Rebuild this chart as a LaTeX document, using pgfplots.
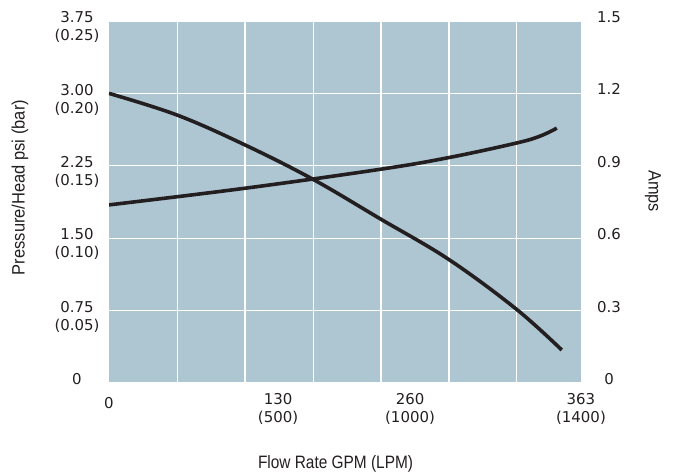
\documentclass[border=0pt]{standalone}
\usepackage{pgfplots}
\pgfplotsset{compat=1.18}
\usepackage{fontspec}
\setmainfont{Liberation Sans}
\newfontfamily\dejavu{DejaVu Sans}
\usepackage{graphicx}
\definecolor{bgcol}{RGB}{174,198,210}
\definecolor{ink}{RGB}{35,31,32}
\begin{document}
\begin{tikzpicture}
\begin{axis}[
  scale only axis, width=472bp, height=362bp,
  xmin=0, xmax=363, ymin=0, ymax=3.75,
  axis background/.style={fill=bgcol},
  axis line style={draw=none},
  major tick length=0pt,
  xtick={0,130,231.5,363},
  xticklabels={{\raisebox{0pt}[14.9bp]{0}},{130\\(500)},{260\\(1000)},{363\\(1400)}},
  xticklabel style={font=\dejavu\fontsize{15}{18}\selectfont, text=ink, align=center, anchor=north, inner sep=0pt, yshift=-10bp},
  ytick={0,0.75,1.5,2.25,3.0,3.75},
  yticklabels={0,{0.75\\(0.05)},{1.50\\(0.10)},{2.25\\(0.15)},{3.00\\(0.20)},{3.75\\(0.25)}},
  yticklabel style={font=\dejavu\fontsize{15}{18}\selectfont, text=ink, align=center, anchor=north, inner sep=0pt, xshift=-32bp, yshift=9.5bp},
  ymajorgrids=true,
  extra x ticks={52.5,104.6,157.2,209.2,261.5,313.6},
  extra x tick labels={},
  extra x tick style={grid=major, major tick length=0pt},
  major grid style={white, line width=1.3bp},
  xlabel={\scalebox{0.86}[1]{Flow Rate GPM (LPM)}},
  xlabel style={font=\fontsize{18}{21}\selectfont, text=ink, at={(axis description cs:0.48,-0.2224)}, anchor=center},
  ylabel={\scalebox{0.92}[1]{Pressure/Head psi (bar)}},
  ylabel style={font=\fontsize{18}{21}\selectfont, text=ink, at={(axis description cs:-0.1886,0.54)}, anchor=center},
]
\addplot[ink, line width=3.6bp, smooth, tension=0.6] coordinates {
(0,3.00) (52.3,2.776) (104.6,2.466) (156.9,2.110) (209.2,1.696)
(261.3,1.28) (313.1,0.767) (348.2,0.342)
};
\end{axis}
\begin{axis}[
  scale only axis, width=472bp, height=362bp,
  xmin=0, xmax=363, ymin=0, ymax=1.5,
  axis x line=none, axis y line*=right,
  axis line style={draw=none},
  major tick length=0pt,
  ytick={0,0.3,0.6,0.9,1.2,1.5},
  yticklabels={0,0.3,0.6,0.9,1.2,1.5},
  yticklabel style={font=\dejavu\fontsize{15}{18}\selectfont, text=ink, anchor=center, inner sep=0pt, xshift=28bp, yshift=4bp},
  ylabel={\scalebox{0.91}[1]{Amps}},
  ylabel style={font=\fontsize{18}{21}\selectfont, text=ink, at={(axis description cs:1.1525,0.53)}, anchor=center, rotate=180},
]
\addplot[ink, line width=3.6bp, smooth, tension=0.6] coordinates {
(0,0.738) (104.6,0.807) (209.2,0.886) (261.3,0.934) (313.1,0.994)
(331.5,1.023) (344.4,1.056)
};
\end{axis}
\pgfresetboundingbox
\path[use as bounding box] (-109bp,-92bp) rectangle (569bp,383bp);
\end{tikzpicture}
\end{document}
